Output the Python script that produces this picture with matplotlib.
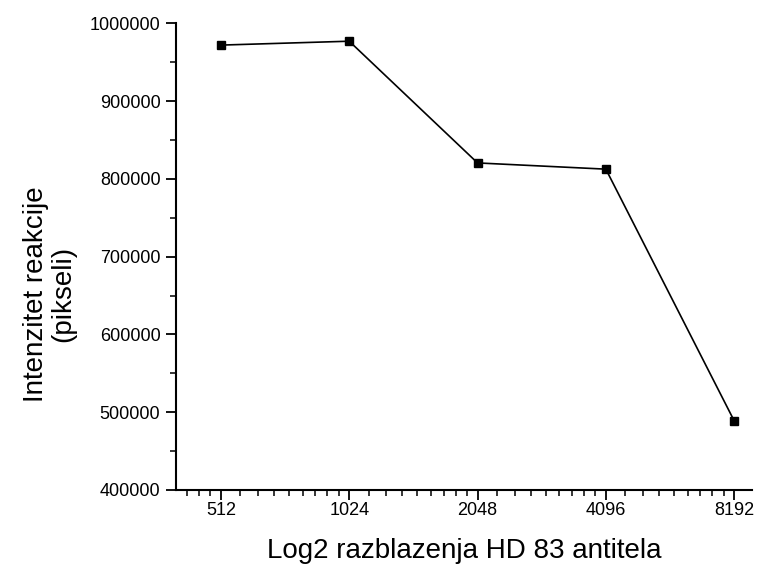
import numpy as np
import matplotlib
matplotlib.use("Agg")
import matplotlib.pyplot as plt
from matplotlib.ticker import FixedLocator, NullFormatter, MultipleLocator

plt.rcParams["font.family"] = ["Liberation Sans", "DejaVu Sans"]

# dilution series and measured reaction intensity
dilution = [512, 1024, 2048, 4096, 8192]
intensity = [972000, 977000, 820500, 812500, 489000]
tick_labels = ["512", "1024", "2048", "4096", "8192"]

fig = plt.figure(figsize=(7.59, 5.66), dpi=100)
ax = fig.add_axes([0.2315, 0.1343, 0.7593, 0.8245])

ax.plot(dilution, intensity, color="black", lw=1.2,
        marker="s", ms=6, mfc="black", mec="black")

ax.set_xscale("log", base=2)
ax.set_xlim(401, 9022)
ax.set_ylim(400000, 1000000)

ax.xaxis.set_major_locator(FixedLocator(dilution))
ax.set_xticklabels(tick_labels)
minor = [b * (1 + k / 9) for b in [256, 512, 1024, 2048, 4096, 8192] for k in range(1, 9)]
ax.xaxis.set_minor_locator(FixedLocator(minor))
ax.xaxis.set_minor_formatter(NullFormatter())

ax.yaxis.set_major_locator(MultipleLocator(100000))
ax.yaxis.set_minor_locator(MultipleLocator(50000))
ax.yaxis.set_major_formatter(matplotlib.ticker.FuncFormatter(lambda v, p: "%d" % v))

for s in ["top", "right"]:
    ax.spines[s].set_visible(False)
for s in ["left", "bottom"]:
    ax.spines[s].set_linewidth(1.5)

ax.tick_params(which="major", direction="out", length=7, width=1.3, labelsize=13)
ax.tick_params(axis="x", which="major", pad=1.5)
ax.tick_params(axis="y", which="major", pad=4)
ax.tick_params(which="minor", direction="out", length=4, width=1.1)

ax.set_xlabel("Log2 razblazenja HD 83 antitela", fontsize=20, labelpad=14)
ax.set_ylabel("Intenzitet reakcije\n(pikseli)", fontsize=20, linespacing=1.1)
ax.yaxis.set_label_coords(-0.172, 0.42)

fig.savefig("out.png", dpi=100)
